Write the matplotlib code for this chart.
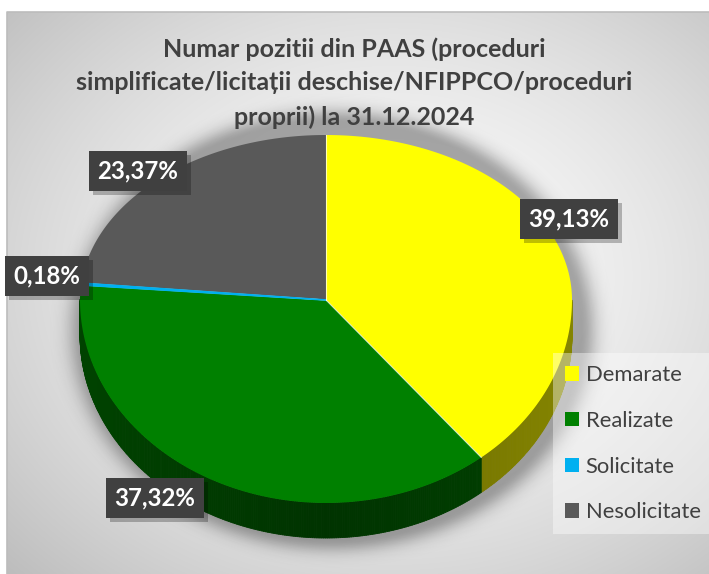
import numpy as np
import matplotlib.pyplot as plt
import matplotlib.patheffects as pe
from matplotlib.patches import Polygon, Patch
from matplotlib.collections import PolyCollection
from matplotlib.colors import to_rgb

# PAAS positions at 31.12.2024 (% of total)
categories = ['Demarate', 'Realizate', 'Solicitate', 'Nesolicitate']
shares = [39.13, 37.32, 0.18, 23.37]
labels = ['39,13%', '37,32%', '0,18%', '23,37%']
colors = ['#ffff00', '#008000', '#00b0f0', '#595959']

title_lines = ['Numar pozitii din PAAS (proceduri',
               'simplificate/licitații deschise/NFIPPCO/proceduri',
               'proprii) la 31.12.2024']

W, H = 709, 574
PT = 72 / 100  # pixels -> points

# pie geometry in pixels (tilted 3D look)
cx, cy = 326, 300
rx, ry_top, ry_bot = 246, 165, 203
depth = 35

# label box centres
label_xy = [(569, 219), (155, 498), (47, 276), (138, 171)]


def rim(t):
    t = np.radians(t)
    s = np.sin(t)
    ry = np.where(s > 0, ry_top, ry_bot)
    return cx + rx * np.cos(t), cy - ry * s


fig = plt.figure(figsize=(W / 100, H / 100), dpi=100)
ax = fig.add_axes([0, 0, 1, 1])
ax.set_xlim(0, W)
ax.set_ylim(H, 0)
ax.axis('off')

# chart area background: soft radial gradient
yy, xx = np.mgrid[0:H, 0:W]
r = np.hypot((xx - 390) / 520, (yy - 270) / 420)
v = 0.985 - 0.23 * np.clip(r, 0, 1.2) ** 1.6
bg = np.dstack([v, v, v])
ax.imshow(bg, extent=(7, W, H, 12), zorder=0, interpolation='bilinear')
ax.plot([7, 7, W], [H, 12, 12], color='#bcbcbc', lw=1.2, zorder=1)

# soft shadow under the pie
sh_r = np.hypot((xx - 332) / (rx + 2), (yy - 330) / 208)
alpha = 0.32 * np.exp(-((np.clip(sh_r - 1, 0, None) * 210) / 14) ** 2)
alpha[sh_r < 1] = 0.32
shadow = np.zeros((H, W, 4))
shadow[..., 3] = alpha
ax.imshow(shadow, extent=(0, W, H, 0), zorder=2, interpolation='bilinear')

bounds = 90 - np.concatenate([[0], np.cumsum(shares)]) * 3.6

# side walls (front half only), shaded by angle
for i, c in enumerate(colors):
    t1, t2 = bounds[i], bounds[i + 1]
    ts = np.linspace(t1, t2, max(int(abs(t1 - t2) * 2), 2))
    quads, fcs = [], []
    base = np.array(to_rgb(c))
    for a, b in zip(ts[:-1], ts[1:]):
        m = np.radians((a + b) / 2)
        if np.sin(m) >= 0:
            continue
        xa, ya = rim(a)
        xb, yb = rim(b)
        quads.append([(xa, ya), (xb, yb), (xb, yb + depth), (xa, ya + depth)])
        f = 0.40 + 0.12 * abs(np.cos(m))
        fcs.append(base * f)
    if quads:
        ax.add_collection(PolyCollection(quads, facecolors=fcs, edgecolors=fcs,
                                         linewidths=0.6, zorder=3))

# top faces
for i, c in enumerate(colors):
    ts = np.linspace(bounds[i], bounds[i + 1], 200)
    x, y = rim(ts)
    pts = np.column_stack([np.r_[cx, x], np.r_[cy, y]])
    ax.add_patch(Polygon(pts, closed=True, fc=c, ec='none', zorder=4))

# thin light edges between slices
for t in bounds[:-1]:
    x, y = rim(t)
    ax.plot([cx, x], [cy, y], color='white', lw=0.8, alpha=0.7, zorder=5)
ts = np.linspace(bounds[2], bounds[3], 10)
x, y = rim(ts)
ax.fill(np.r_[cx, x], np.r_[cy, y], color=colors[2], lw=1.2,
        ec=colors[2], zorder=5)

# data labels in dark boxes with a drop shadow
for (lx, ly), txt in zip(label_xy, labels):
    t = ax.text(lx, ly, txt, ha='center', va='center', color='white',
                fontsize=24 * PT, fontweight='bold', family='Lato', zorder=7,
                bbox=dict(boxstyle='square,pad=0.36', fc='#404040', ec='none'))
    t.get_bbox_patch().set_path_effects([
        pe.SimplePatchShadow(offset=(3, -3), shadow_rgbFace='black', alpha=0.25),
        pe.Normal()])

# title
for k, line in enumerate(title_lines):
    ax.text(354, 49 + 34 * k, line, ha='center', va='center',
            color='#404040', fontsize=25 * PT, fontweight='bold',
            family='Lato', zorder=7)

# legend
handles = [Patch(fc=c, ec='none') for c in colors]
leg = ax.legend(handles, categories, loc='upper left',
                bbox_to_anchor=(553, 353), bbox_transform=ax.transData,
                prop={'family': 'Lato', 'size': 22 * PT},
                labelcolor='#404040', frameon=True, fancybox=False,
                handlelength=0.64, handleheight=0.64, handletextpad=0.3,
                labelspacing=1.17, borderpad=0.55, borderaxespad=0)
leg.get_frame().set_facecolor('white')
leg.get_frame().set_alpha(0.4)
leg.get_frame().set_edgecolor('none')
leg.set_zorder(8)

fig.savefig('out.png', dpi=100)
